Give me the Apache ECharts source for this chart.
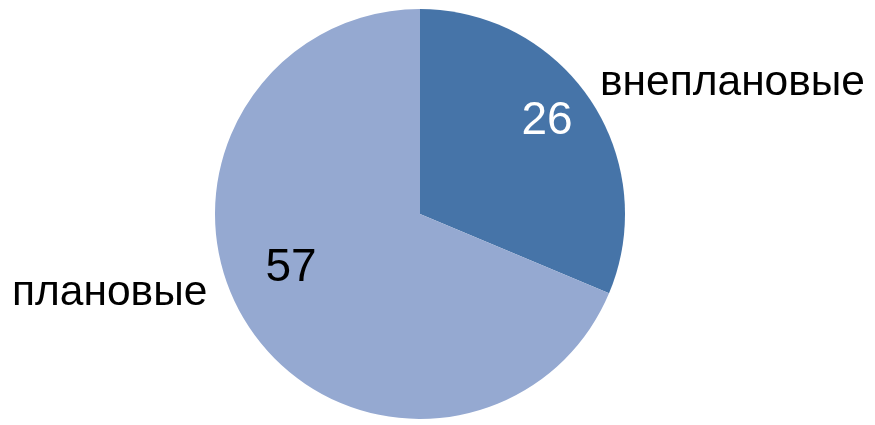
<!DOCTYPE html>
<html>
<head>
<meta charset="utf-8">
<script src="https://cdn.jsdelivr.net/npm/echarts@6/dist/echarts.min.js"></script>
<style>html,body{margin:0;padding:0;background:#fff}#c{width:875px;height:425px}</style>
</head>
<body>
<div id="c"></div>
<script>
const categories = ['внеплановые', 'плановые'];
const values = [26, 57];
const colors = ['#4674A8', '#95A9D1'];

const data = categories.map((n, i) => ({ name: n, value: values[i], itemStyle: { color: colors[i] } }));

const valuePos = [[547, 121, '#ffffff'], [291, 268, '#000000']];
const namePos = [[600, 83], [12, 293]];

const chart = echarts.init(document.getElementById('c'), null, { renderer: 'canvas' });
chart.setOption({
  animation: false,
  series: [
    {
      type: 'pie',
      center: [420, 214],
      radius: [0, 205],
      startAngle: 90,
      clockwise: true,
      data: data.map((d, i) => Object.assign({}, d, { label: { color: valuePos[i][2] } })),
      label: {
        show: true,
        position: 'inside',
        formatter: '{c}',
        fontFamily: 'Liberation Sans, Arial, sans-serif',
        fontSize: 46
      },
      labelLine: { show: false },
      labelLayout: function (p) {
        const v = valuePos[p.dataIndex];
        return { x: v[0], y: v[1], align: 'center', verticalAlign: 'middle' };
      },
      emphasis: { disabled: true }
    },
    {
      type: 'pie',
      center: [420, 214],
      radius: [0, 205],
      startAngle: 90,
      clockwise: true,
      silent: true,
      data: data.map(d => ({ name: d.name, value: d.value, itemStyle: { color: 'rgba(0,0,0,0)' } })),
      label: {
        show: true,
        position: 'inside',
        formatter: '{b}',
        color: '#000',
        fontFamily: 'Liberation Sans, Arial, sans-serif',
        fontSize: 42.5
      },
      labelLine: { show: false },
      labelLayout: function (p) {
        const v = namePos[p.dataIndex];
        return { x: v[0], y: v[1], align: 'left', verticalAlign: 'middle' };
      },
      emphasis: { disabled: true }
    }
  ]
});
</script>
</body>
</html>
